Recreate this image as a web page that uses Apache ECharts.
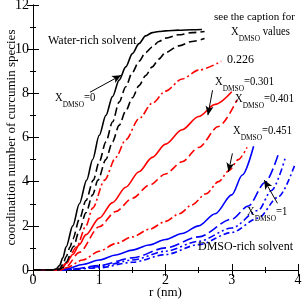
<!DOCTYPE html>
<html><head><meta charset="utf-8">
<script src="https://cdn.jsdelivr.net/npm/echarts@6/dist/echarts.min.js"></script>
<style>html,body{margin:0;padding:0;background:#fff}#c{width:303px;height:300px}</style>
</head><body><div id="c"></div>
<script>
// ---- data: [r (nm), coordination number]
var xTicks = [0, 1, 2, 3, 4];
var yTicks = [0, 2, 4, 6, 8, 10, 12];
var black0 = [[0,0],[0.3,0],[0.35,0.05],[0.4,0.2],[0.45,0.55],[0.5,1.05],[0.6,2.0],[0.7,3.0],[0.81,4.07],[0.9,5.0],[1.0,6.1],[1.1,7.0],[1.2,7.85],[1.3,8.6],[1.4,9.2],[1.5,9.8],[1.6,10.25],[1.7,10.6],[1.8,10.75],[1.9,10.8],[2.0,10.83],[2.2,10.86],[2.4,10.88],[2.55,10.89]];
var blackDash1 = [[0,0],[0.35,0],[0.4,0.05],[0.45,0.25],[0.5,0.6],[0.56,1.05],[0.6,1.4],[0.7,2.3],[0.8,3.15],[0.91,4.07],[1.0,4.9],[1.1,5.8],[1.2,6.7],[1.3,7.6],[1.4,8.3],[1.5,8.95],[1.6,9.45],[1.7,9.85],[1.8,10.1],[1.9,10.35],[2.0,10.5],[2.2,10.65],[2.4,10.75],[2.59,10.8]];
var blackDash2 = [[0,0],[0.38,0],[0.45,0.1],[0.5,0.35],[0.61,1.05],[0.7,1.8],[0.8,2.6],[0.9,3.4],[0.98,4.07],[1.1,5.0],[1.2,5.8],[1.3,6.55],[1.4,7.2],[1.5,7.8],[1.6,8.35],[1.7,8.8],[1.8,9.2],[1.9,9.55],[2.0,9.85],[2.2,10.15],[2.4,10.35],[2.59,10.48]];
var red226 = [[0,0],[0.38,0],[0.45,0.1],[0.5,0.3],[0.66,1.05],[0.8,2.0],[0.9,2.8],[1.08,4.07],[1.25,5.1],[1.4,5.9],[1.6,6.85],[1.8,7.55],[2.0,8.1],[2.25,8.65],[2.5,9.05],[2.84,9.45]];
var red301 = [[0,0],[0.35,0],[0.4,0.05],[0.5,0.3],[0.6,0.7],[0.7,1.15],[0.8,1.6],[1.0,2.35],[1.2,3.05],[1.4,3.75],[1.6,4.45],[1.8,5.1],[2.0,5.7],[2.25,6.35],[2.5,6.95],[2.75,7.5],[3.0,8.07]];
var red401 = [[0,0],[0.4,0],[0.45,0.03],[0.5,0.15],[0.7,0.8],[1.0,1.96],[1.25,2.65],[1.5,3.25],[1.76,3.85],[2.0,4.35],[2.25,4.9],[2.5,5.55],[2.8,6.5],[3.08,7.7]];
var red451 = [[0,0],[0.42,0],[0.5,0.1],[0.75,0.45],[1.0,0.85],[1.25,1.2],[1.5,1.5],[1.76,1.85],[2.0,2.2],[2.21,2.55],[2.4,2.95],[2.61,3.45],[2.8,4.0],[2.96,4.5],[3.1,5.0],[3.23,5.55]];
var blueSolid = [[0,0],[0.45,0],[0.5,0.05],[0.75,0.25],[1.0,0.45],[1.25,0.68],[1.5,0.9],[1.75,1.13],[2.0,1.38],[2.25,1.65],[2.5,2.0],[2.75,2.55],[3.0,3.4],[3.16,4.3],[3.33,5.6]];
var blueA = [[0,0],[0.45,0],[0.6,0.05],[1.0,0.2],[1.5,0.55],[2.0,1.0],[2.5,1.5],[3.0,2.3],[3.25,2.9],[3.5,3.95],[3.71,5.3]];
var blueB = [[0,0],[0.45,0],[0.6,0.04],[1.0,0.15],[1.5,0.45],[2.0,0.85],[2.5,1.3],[3.0,1.9],[3.4,2.7],[3.6,3.6],[3.81,5.1]];
var blueC = [[0,0],[0.45,0],[0.6,0.03],[1.0,0.1],[1.5,0.35],[2.0,0.7],[2.5,1.15],[3.0,1.7],[3.4,2.35],[3.7,3.3],[3.96,4.83]];
// arrows: [from, to] in data coordinates
var arrow0 = [[0.86,8.05],[1.33,8.82]];
var arrow301 = [[2.71,8.14],[2.64,7.01]];
var arrow451 = [[3.01,5.28],[2.95,4.45]];
var arrow1 = [[3.69,3.02],[3.49,4.07]];

var SERIF = "'Liberation Serif','DejaVu Serif',serif";
var chart = echarts.init(document.getElementById('c'), null, {renderer:'canvas'});
function ln(data, color, type, w) {
  return {type:'line', data:data, showSymbol:false, smooth:0.3, smoothMonotone:'x',
    lineStyle:{color:color, width:w||1.6, type:type}, silent:true, animation:false, z:3};
}
function arrowSeries(pairs) {
  return {type:'line', data:[], animation:false, silent:true,
    markLine:{silent:true, symbol:['none','arrow'], symbolSize:[6,9], label:{show:false},
      lineStyle:{color:'#000', width:1, type:'solid'},
      data: pairs.map(function(p){return [{coord:p[0]},{coord:p[1]}];})}};
}
var axisCommon = {
  axisLine:{show:true, lineStyle:{color:'#000', width:1}},
  axisTick:{show:true, inside:true, length:6, lineStyle:{color:'#000'}},
  minorTick:{show:true, splitNumber:2, length:3, lineStyle:{color:'#000'}},
  splitLine:{show:false}
};
var rich = {
  a:{fontFamily:SERIF, fontSize:13, color:'#000', lineHeight:14, verticalAlign:'top'},
  s:{fontFamily:SERIF, fontSize:9, color:'#000', lineHeight:18, verticalAlign:'bottom'}
};
function txt(x, y, t, fs) {
  return {type:'text', left:x, top:y, silent:true, z:10,
    style:{text:t, fontFamily:SERIF, fontSize:fs||12, fill:'#000'}};
}
function rtxt(x, y, t) {
  return {type:'text', left:x, top:y, silent:true, z:10, scaleX:0.82,
    style:{text:t, rich:rich, fill:'#000'}};
}
chart.setOption({
  animation:false,
  grid:{left:33, right:5, top:5, bottom:30, containLabel:false, outerBoundsMode:'none'},
  xAxis:[
    Object.assign({type:'value', min:0, max:4, interval:1, position:'bottom',
      name:'r (nm)', nameLocation:'middle', nameGap:16, nameMoveOverlap:false,
      nameTextStyle:{fontFamily:SERIF, fontSize:13, color:'#000'},
      axisLabel:{fontFamily:SERIF, fontSize:14, color:'#000', margin:3}}, axisCommon),
    Object.assign({type:'value', min:0, max:4, interval:1, position:'top',
      axisLabel:{show:false}}, axisCommon)
  ],
  yAxis:[
    Object.assign({type:'value', min:0, max:12, interval:2, position:'left',
      name:'coordination number of curcumin species', nameLocation:'middle', nameGap:15, nameMoveOverlap:false,
      nameTextStyle:{fontFamily:SERIF, fontSize:13, color:'#000'},
      axisLabel:{fontFamily:SERIF, fontSize:14, color:'#000', margin:4}}, axisCommon),
    Object.assign({type:'value', min:0, max:12, interval:2, position:'right',
      axisLabel:{show:false}}, axisCommon)
  ],
  series:[
    ln(blueC, '#0000ff', [6,3,2,3]),
    ln(blueB, '#0000ff', [7,3,2,3,2,3]),
    ln(blueA, '#0000ff', [10,4]),
    ln(blueSolid, '#0000ff', 'solid'),
    ln(red451, '#ff0000', [8,3,2,3]),
    ln(red401, '#ff0000', [8,4]),
    ln(red301, '#ff0000', 'solid'),
    ln(red226, '#ff0000', [8,3,2,3]),
    ln(blackDash2, '#000', [8,4]),
    ln(blackDash1, '#000', [8,4]),
    ln(black0, '#000', 'solid'),
    arrowSeries([arrow0, arrow301, arrow451, arrow1])
  ],
  graphic:[
    txt(48, 35, 'Water-rich solvent', 12),
    rtxt(55, 91, '{a|X}{s|DMSO}{a|=0}'),
    txt(214, 12, 'see the caption for', 11),
    rtxt(231, 25, '{a|X}{s|DMSO}{a| values}'),
    txt(227, 54, '0.226', 12),
    rtxt(215, 75, '{a|X}{s|DMSO}{a|=0.301}'),
    rtxt(235, 92, '{a|X}{s|DMSO}{a|=0.401}'),
    rtxt(233, 124, '{a|X}{s|DMSO}{a|=0.451}'),
    rtxt(247, 205, '{a|X}{s|DMSO}{a|=1}'),
    txt(198, 241, 'DMSO-rich solvent', 12)
  ]
});
</script></body></html>
